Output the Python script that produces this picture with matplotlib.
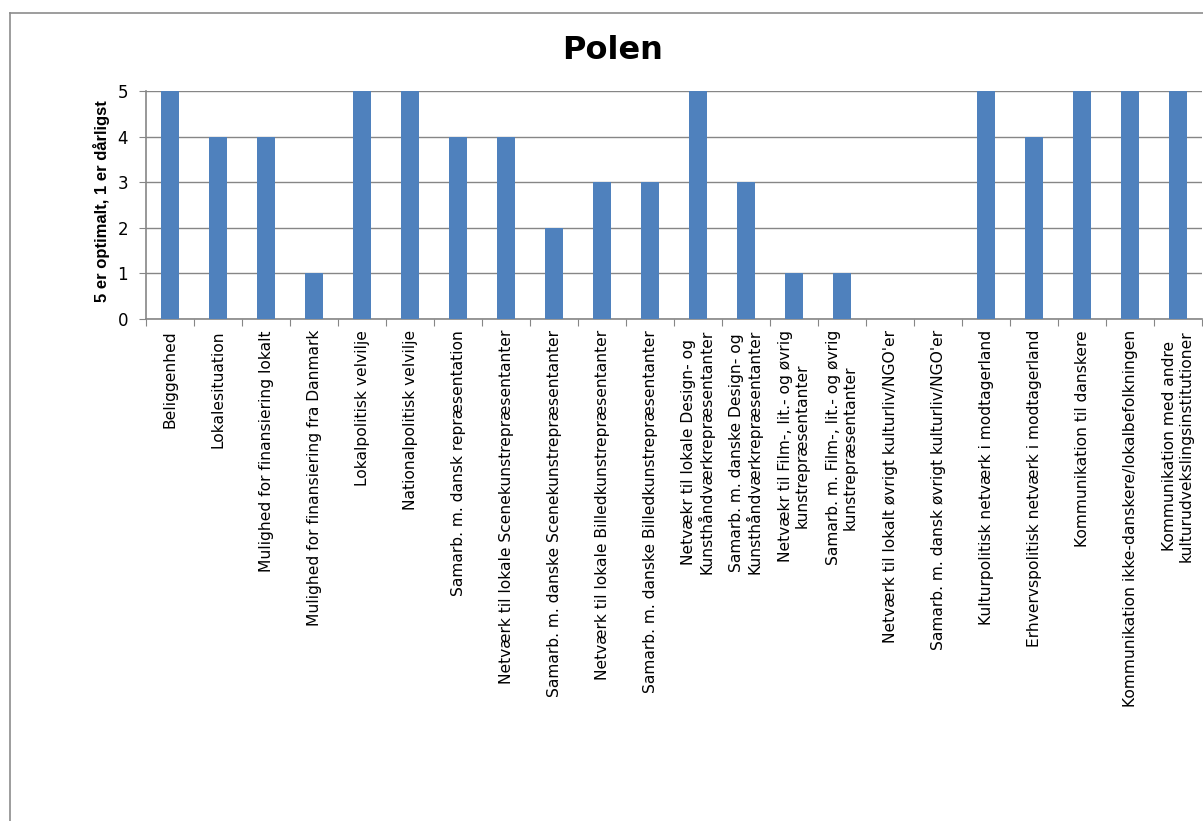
import matplotlib
matplotlib.use('Agg')
import matplotlib.pyplot as plt
from matplotlib.lines import Line2D
import numpy as np

plt.rcParams['font.family'] = ['DejaVu Sans']

title = 'Polen'
y_label = '5 er optimalt, 1 er dårligst'
categories = [
    'Beliggenhed',
    'Lokalesituation',
    'Mulighed for finansiering lokalt',
    'Mulighed for finansiering fra Danmark',
    'Lokalpolitisk velvilje',
    'Nationalpolitisk velvilje',
    'Samarb. m. dansk repræsentation',
    'Netværk til lokale Scenekunstrepræsentanter',
    'Samarb. m. danske Scenekunstrepræsentanter',
    'Netværk til lokale Billedkunstrepræsentanter',
    'Samarb. m. danske Billedkunstrepræsentanter',
    'Netvækr til lokale Design- og\nKunsthåndværkrepræsentanter',
    'Samarb. m. danske Design- og\nKunsthåndværkrepræsentanter',
    'Netvækr til Film-, lit.- og øvrig\nkunstrepræsentanter',
    'Samarb. m. Film-, lit.- og øvrig\nkunstrepræsentanter',
    'Netværk til lokalt øvrigt kulturliv/NGO\'er',
    'Samarb. m. dansk øvrigt kulturliv/NGO\'er',
    'Kulturpolitisk netværk i modtagerland',
    'Erhvervspolitisk netværk i modtagerland',
    'Kommunikation til danskere',
    'Kommunikation ikke-danskere/lokalbefolkningen',
    'Kommunikation med andre\nkulturudvekslingsinstitutioner',
]
values = [5, 4, 4, 1, 5, 5, 4, 4, 2, 3, 3, 5, 3, 1, 1, 0, 0, 5, 4, 5, 5, 5]

fig = plt.figure(figsize=(12.03, 8.21), dpi=100)
ax = fig.add_axes([0.1214, 0.6115, 0.8778, 0.2777])

grid_col = '#868686'
x = np.arange(len(categories))
ax.bar(x, values, width=0.38, color='#4F81BD', zorder=3)

ax.set_xlim(-0.5, len(categories) - 0.5)
ax.set_ylim(0, 5)
ax.set_yticks(range(6))
ax.yaxis.grid(True, color=grid_col, linewidth=1, zorder=0)
ax.tick_params(axis='y', labelsize=12, length=5, color=grid_col, pad=8)

# ticks between categories, labels at centres
ax.set_xticks(np.arange(len(categories) + 1) - 0.5)
ax.set_xticklabels([])
ax.set_xticks(x, minor=True)
ax.set_xticklabels(categories, minor=True, rotation=90, fontsize=11.2,
                   ha='center', va='top', multialignment='center', linespacing=1.1)
ax.tick_params(axis='x', which='minor', length=0, pad=8)
ax.tick_params(axis='x', which='major', length=5, color=grid_col)

for side in ['top', 'right']:
    ax.spines[side].set_visible(False)
for side in ['left', 'bottom']:
    ax.spines[side].set_color(grid_col)
    ax.spines[side].set_linewidth(1.2)

fig.text(0.509, 0.939, title, fontsize=23, fontweight='bold', ha='center', va='center')
fig.text(0.084, 0.755, y_label, fontsize=12, fontweight='bold', rotation=90,
         ha='center', va='center', family='Liberation Sans')

# chart area border (cut by the image edges)
fig.add_artist(Line2D([10 / 1203, 10 / 1203], [0, 1 - 13 / 821], color='#8c8c8c', linewidth=1.2))
fig.add_artist(Line2D([10 / 1203, 1], [1 - 13 / 821, 1 - 13 / 821], color='#8c8c8c', linewidth=1.2))

fig.savefig('out.png', dpi=100)
